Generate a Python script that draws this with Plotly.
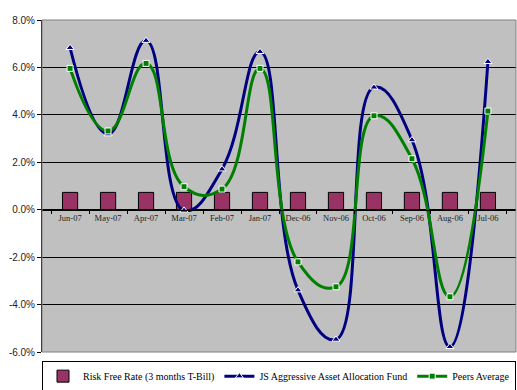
import plotly.graph_objects as go

months = ["Jun-07", "May-07", "Apr-07", "Mar-07", "Feb-07", "Jan-07",
          "Dec-06", "Nov-06", "Oct-06", "Sep-06", "Aug-06", "Jul-06"]
risk_free = [0.73] * 12
fund = [6.83, 3.19, 7.13, -0.03, 1.71, 6.66, -3.39, -5.47, 5.16, 2.94, -5.78, 6.24]
peers = [5.96, 3.32, 6.17, 0.97, 0.87, 5.96, -2.20, -3.25, 3.96, 2.15, -3.67, 4.16]
y_ticks = [-6, -4, -2, 0, 2, 4, 6, 8]
y_labels = [f"{v:.1f}%" for v in y_ticks]

fig = go.Figure()
fig.add_trace(go.Bar(
    x=months, y=risk_free, name="Risk Free Rate (3 months T-Bill)",
    marker=dict(color="#993366", line=dict(color="#000000", width=1)),
))
fig.add_trace(go.Scatter(
    x=months, y=fund, name="JS Aggressive Asset Allocation Fund",
    mode="lines+markers",
    line=dict(color="#000080", width=3, shape="spline", smoothing=1.3),
    marker=dict(symbol="triangle-up", size=7, color="#000080",
                line=dict(color="#ffffff", width=1)),
))
fig.add_trace(go.Scatter(
    x=months, y=peers, name="Peers Average",
    mode="lines+markers",
    line=dict(color="#008000", width=3, shape="spline", smoothing=1.3),
    marker=dict(symbol="square", size=6, color="#008000",
                line=dict(color="#ffffff", width=1)),
))

fig.update_layout(
    width=517, height=390,
    margin=dict(l=42, r=1, t=20, b=38, autoexpand=False),
    paper_bgcolor="#ffffff",
    plot_bgcolor="#C0C0C0",
    bargap=0.6,
    showlegend=True,
    legend=dict(
        orientation="h", x=0, xanchor="left", y=-0.026, yanchor="top",
        font=dict(family="Liberation Serif", size=10, color="#000000"),
        bordercolor="#000000", borderwidth=1, bgcolor="#ffffff",
        itemwidth=30, tracegroupgap=0,
    ),
    xaxis=dict(
        type="category", anchor="free", position=6/14,
        showline=True, linecolor="#000000", linewidth=1,
        ticks="outside", ticklen=3, tickcolor="#000000", tickson="boundaries",
        showgrid=False, tickangle=0, automargin=False,
        tickfont=dict(family="Liberation Serif", size=8.5, color="#222222"),
    ),
    yaxis=dict(
        range=[-6, 8], tickvals=y_ticks, ticktext=y_labels,
        showline=True, linecolor="#000000", linewidth=1,
        ticks="outside", ticklen=4, tickcolor="#000000",
        showgrid=True, gridcolor="#000000", gridwidth=1,
        zeroline=False, automargin=False,
        tickfont=dict(family="Liberation Sans", size=10, color="#222222"),
    ),
    shapes=[dict(type="rect", xref="x domain", yref="y domain",
                 x0=0, x1=1, y0=0, y1=1,
                 line=dict(color="#808080", width=1), layer="above")],
)

fig.write_html("out.html", config={"displayModeBar": False},
               post_script="document.body.style.margin='0';")
